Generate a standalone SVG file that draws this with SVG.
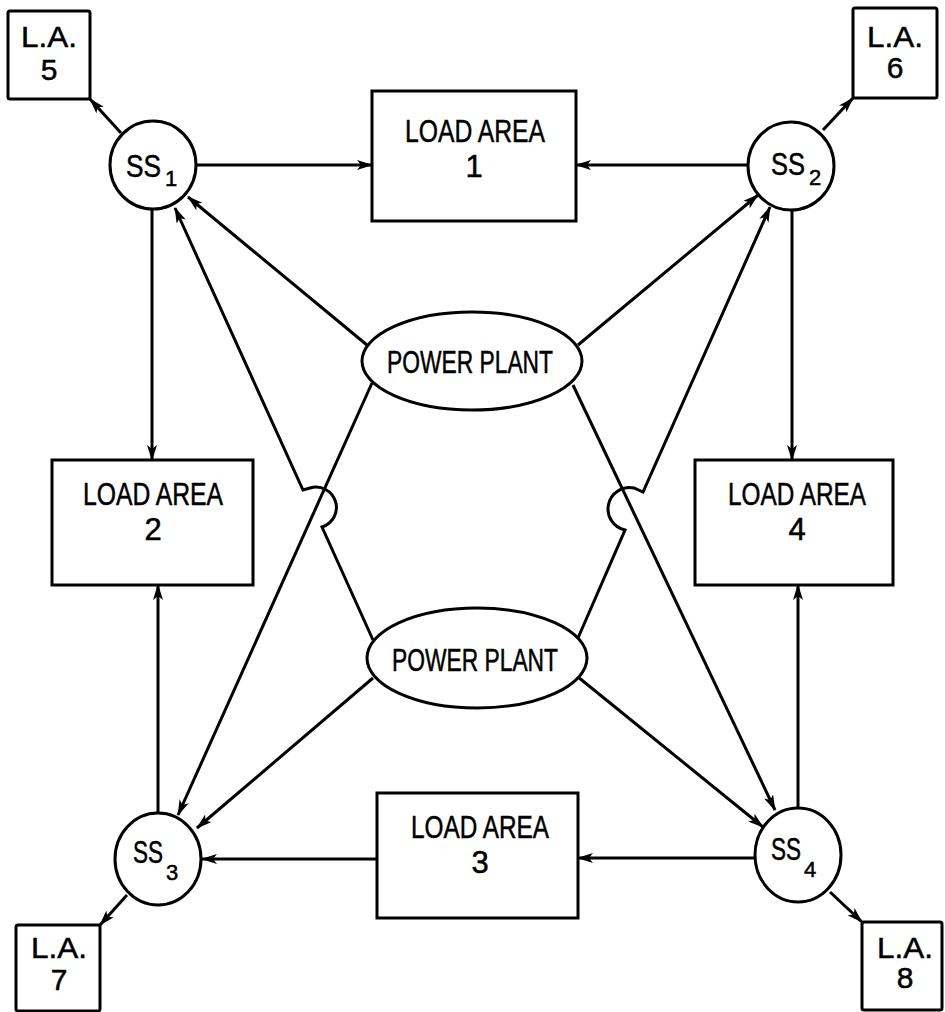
<svg xmlns="http://www.w3.org/2000/svg" width="945" height="1012" viewBox="0 0 945 1012">
<style>
.box{fill:#fff;stroke:#000;stroke-width:3}
.node{fill:#fff;stroke:#000;stroke-width:3}
.t{font-family:"Liberation Sans",Arial,sans-serif;fill:#000;text-anchor:middle;stroke:#000;stroke-width:0.5}
.s{text-anchor:start}
.big{font-size:31px}
.sm{font-size:30px}
.sub{font-size:22px}
.e{fill:none;stroke:#000;stroke-width:3;marker-end:url(#arr)}
</style>
<defs>
<marker id="arr" viewBox="0 0 16 10" refX="15" refY="5" markerWidth="16" markerHeight="10" orient="auto" markerUnits="userSpaceOnUse">
<path d="M0,0 L16,5 L0,10 L4,5 Z" fill="#000"/>
</marker>
</defs>
<rect width="945" height="1012" fill="#fff"/>
<g id="connectors">
<line class="e" x1="195" y1="165" x2="372" y2="165"/>
<line class="e" x1="748" y1="165" x2="576" y2="165"/>
<line class="e" x1="152" y1="210" x2="152" y2="460"/>
<line class="e" x1="158" y1="812" x2="158" y2="585"/>
<line class="e" x1="792" y1="210" x2="792" y2="460"/>
<line class="e" x1="798" y1="808" x2="798" y2="585"/>
<line class="e" x1="756" y1="858" x2="578" y2="858"/>
<line class="e" x1="377" y1="859" x2="202" y2="859"/>
<line class="e" x1="121" y1="133" x2="90" y2="99"/>
<line class="e" x1="823" y1="130" x2="853" y2="98"/>
<line class="e" x1="127" y1="895" x2="100" y2="925"/>
<line class="e" x1="830" y1="892" x2="862" y2="922"/>
<line class="e" x1="367" y1="345" x2="188" y2="197"/>
<line class="e" x1="578" y1="345" x2="758" y2="195"/>
<line class="e" x1="372" y1="383" x2="178" y2="815"/>
<line class="e" x1="573" y1="385" x2="775" y2="810"/>
<line class="e" x1="373" y1="678" x2="197" y2="828"/>
<line class="e" x1="578" y1="677" x2="763" y2="827"/>
<path class="e" d="M373,640 L322,527 A20,20 0 0 0 310,488 L303,490 L175,208"/>
<path class="e" d="M578,638 L625,530 A20,20 0 0 1 634,488 L643,492 L770,207"/>
</g>
<g id="la5"><rect class="box" x="8" y="11" width="82" height="88" rx="2"/><text class="t sm" x="49" y="47" textLength="56" lengthAdjust="spacingAndGlyphs">L.A.</text><text class="t sm" x="49" y="80">5</text></g>
<g id="la6"><rect class="box" x="853" y="8" width="84" height="90" rx="2"/><text class="t sm" x="895" y="47" textLength="56" lengthAdjust="spacingAndGlyphs">L.A.</text><text class="t sm" x="895" y="78">6</text></g>
<g id="la7"><rect class="box" x="16" y="925" width="84" height="86" rx="2"/><text class="t sm" x="59" y="958" textLength="56" lengthAdjust="spacingAndGlyphs">L.A.</text><text class="t sm" x="59" y="990">7</text></g>
<g id="la8"><rect class="box" x="862" y="922" width="80" height="88" rx="2"/><text class="t sm" x="905" y="958" textLength="56" lengthAdjust="spacingAndGlyphs">L.A.</text><text class="t sm" x="905" y="988">8</text></g>
<g id="ss1"><ellipse class="node" cx="153" cy="165" rx="43" ry="44"/><text class="t s big" x="126" y="177" textLength="35" lengthAdjust="spacingAndGlyphs">SS</text><text class="t s sub" x="165" y="186">1</text></g>
<g id="ss2"><ellipse class="node" cx="791" cy="166" rx="43" ry="44"/><text class="t s big" x="771" y="175" textLength="34" lengthAdjust="spacingAndGlyphs">SS</text><text class="t s sub" x="809" y="185">2</text></g>
<g id="ss3"><ellipse class="node" cx="158" cy="859" rx="43" ry="46"/><text class="t s big" x="133" y="863" textLength="30" lengthAdjust="spacingAndGlyphs">SS</text><text class="t s sub" x="166" y="880">3</text></g>
<g id="ss4"><ellipse class="node" cx="798" cy="855" rx="43" ry="47"/><text class="t s big" x="771" y="860" textLength="30" lengthAdjust="spacingAndGlyphs">SS</text><text class="t s sub" x="804" y="877">4</text></g>
<g id="la1"><rect class="box" x="372" y="91" width="204" height="130"/><text class="t big" x="475" y="142" textLength="140" lengthAdjust="spacingAndGlyphs">LOAD AREA</text><text class="t big" x="474" y="177">1</text></g>
<g id="la2"><rect class="box" x="52" y="460" width="201" height="125"/><text class="t big" x="153" y="505" textLength="140" lengthAdjust="spacingAndGlyphs">LOAD AREA</text><text class="t big" x="153" y="540">2</text></g>
<g id="la4"><rect class="box" x="695" y="460" width="198" height="125"/><text class="t big" x="797" y="505" textLength="138" lengthAdjust="spacingAndGlyphs">LOAD AREA</text><text class="t big" x="797" y="540">4</text></g>
<g id="la3"><rect class="box" x="377" y="793" width="201" height="125"/><text class="t big" x="480" y="838" textLength="138" lengthAdjust="spacingAndGlyphs">LOAD AREA</text><text class="t big" x="480" y="873">3</text></g>
<g id="pp1"><ellipse class="node" cx="472" cy="361" rx="110" ry="49"/><text class="t big" x="470" y="373" textLength="166" lengthAdjust="spacingAndGlyphs">POWER PLANT</text></g>
<g id="pp2"><ellipse class="node" cx="477" cy="658" rx="110" ry="50"/><text class="t big" x="475" y="671" textLength="166" lengthAdjust="spacingAndGlyphs">POWER PLANT</text></g>
</svg>
